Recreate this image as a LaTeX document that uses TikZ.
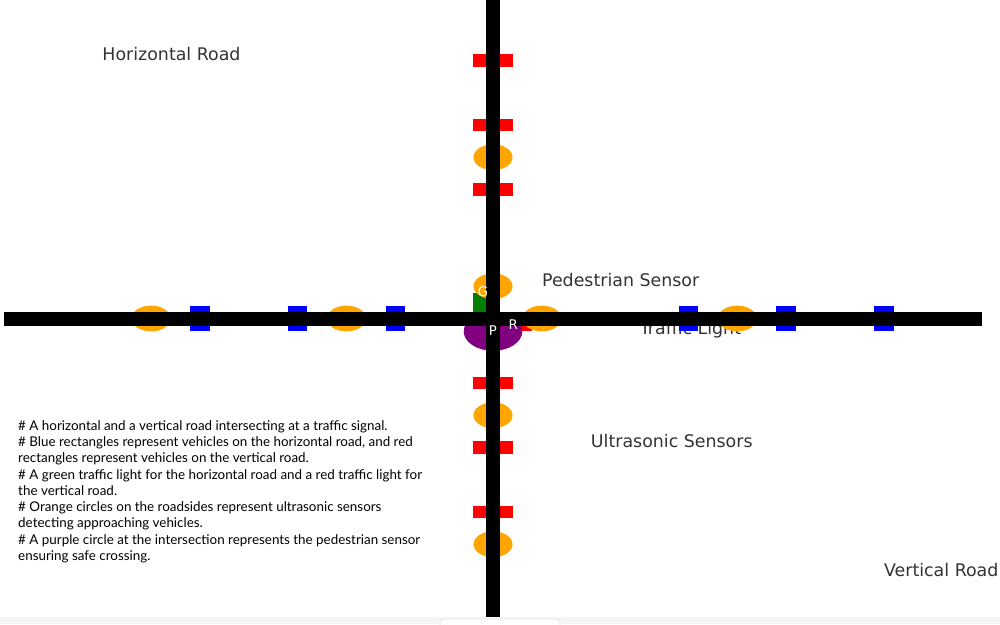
\documentclass[tikz,border=0pt]{standalone}
\usepackage{fontspec}
\setmainfont{DejaVu Sans}
\newfontfamily\notefont{Lato}
\definecolor{sensororange}{HTML}{FFA500}
\definecolor{signalgreen}{HTML}{008000}
\definecolor{pedpurple}{HTML}{800080}
\tikzset{
  road/.style={line width=10.5pt, black},
  hcar/.style={fill=blue},
  vcar/.style={fill=red},
  sensor/.style={fill=sensororange},
  roadlabel/.style={anchor=base west, inner sep=0pt, font=\fontsize{13.05}{15}\selectfont, text=black!80},
  lightlabel/.style={anchor=base west, inner sep=0pt, font=\fontsize{10}{12}\selectfont, text=white},
  notes/.style={anchor=north west, inner sep=0pt, align=left, font=\notefont\fontsize{10.05}{12.2}\selectfont},
}

\begin{document}
\begin{tikzpicture}[xscale=2.5753,yscale=1.7002]
  \useasboundingbox (-5.046,-4.736) rectangle (5.189,4.938);
  % labels
  \node[roadlabel] (hroadlbl) at (-4,4) {Horizontal Road};
  \node[roadlabel] (pedlbl) at (0.5,0.5) {Pedestrian Sensor};
  \node[roadlabel] (lightlbl) at (1.5,-0.25) {Traffic Light};
  \node[roadlabel] (ultralbl) at (1,-2) {Ultrasonic Sensors};
  \node[roadlabel] (vroadlbl) at (4,-4) {Vertical Road};
  \node[notes] (notelbl) at (-4.862,-1.575) {%
    \# A horizontal and a vertical road intersecting at a traffic signal.\\
    \# Blue rectangles represent vehicles on the horizontal road, and red\\
    rectangles represent vehicles on the vertical road.\\
    \# A green traffic light for the horizontal road and a red traffic light for\\
    the vertical road.\\
    \# Orange circles on the roadsides represent ultrasonic sensors\\
    detecting approaching vehicles.\\
    \# A purple circle at the intersection represents the pedestrian sensor\\
    ensuring safe crossing.};
  % vehicles
  \foreach \x in {-3,-2,-1,2,3,4}
    \fill[hcar] (\x-0.1,-0.2) rectangle (\x+0.1,0.2);
  \foreach \y in {4,3,2,-1,-2,-3}
    \fill[vcar] (-0.2,\y-0.1) rectangle (0.2,\y+0.1);
  % traffic lights
  \fill[signalgreen] (-0.2,0) rectangle (0,0.4);
  \fill[red] (0,-0.2) rectangle (0.4,0);
  % sensors
  \foreach \x in {-3.5,-1.5,0.5,2.5}
    \fill[sensor] (\x,0) circle (0.2);
  \foreach \y in {0.5,2.5,-1.5,-3.5}
    \fill[sensor] (0,\y) circle (0.2);
  % pedestrian sensor
  \fill[pedpurple] (0,-0.2) circle (0.3);
  % roads
  \draw[road] (-5,0) -- (5,0);
  \draw[road] (0,-5) -- (0,5);
  \node[lightlabel] (glbl) at (-0.157,0.34) {G};
  \node[lightlabel,anchor=base] (plbl) at (0,-0.256) {P};
  \node[lightlabel] (rlbl) at (0.157,-0.163) {R};
  % bottom strip
  \fill[gray!8] (-5.046,-4.628) rectangle (5.189,-4.736);
  \draw[gray!25,fill=white,rounded corners=3pt] (-0.5425,-4.659) rectangle (0.686,-4.85);
\end{tikzpicture}
\end{document}
